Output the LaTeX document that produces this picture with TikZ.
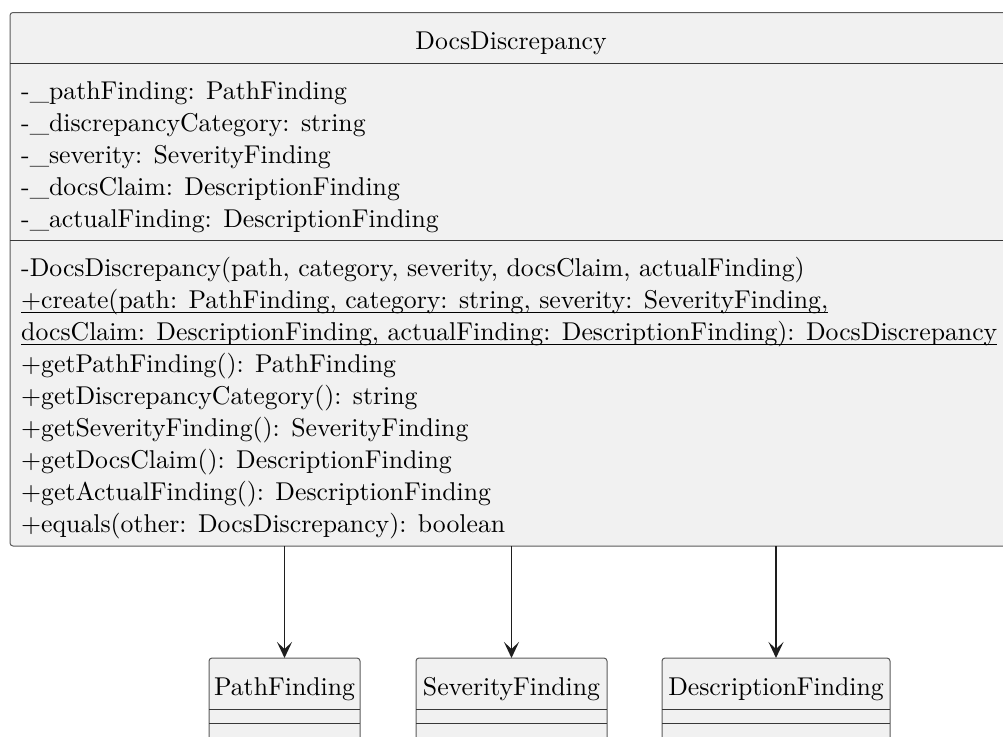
\documentclass[tikz,border=0pt]{standalone}
\usepackage{fontspec}
\setmainfont{lmroman10-regular}[Extension=.otf]
\usetikzlibrary{arrows.meta,calc}

\definecolor{boxfill}{HTML}{F1F1F1}
\definecolor{boxline}{HTML}{5A5A5A}
\definecolor{sepline}{HTML}{383838}
\definecolor{inkline}{HTML}{1E1E1E}

\newlength\refwidth

\begin{document}
% font size chosen so that the first line of create() spans 807pt
\settowidth\refwidth{\normalfont\fontsize{10pt}{12pt}\selectfont +create(path: PathFinding, category: string, severity: SeverityFinding,}%
\pgfmathsetmacro\memfs{10*807/\refwidth}%
\begin{tikzpicture}[x=1pt,y=-1pt,
  umltext/.style={font=\fontsize{\memfs pt}{\memfs pt}\selectfont, inner sep=0pt, text=black},
  member/.style={umltext, anchor=base west},
  classname/.style={umltext, anchor=base},
  classbox/.style={draw=boxline, fill=boxfill, line width=1pt, rounded corners=3pt,
    rectangle, inner sep=0pt, outer sep=0pt},
  compsep/.style={draw=sepline, line width=1.4pt},
  thinsep/.style={draw=sepline, line width=0.9pt},
  underbar/.style={draw=black, line width=1.4pt},
  assoc/.style={draw=inkline, line width=1.7pt,
    -{Stealth[length=16pt, width=15pt, inset=7pt]}}]

\useasboundingbox (0,0) rectangle (1003,736);

% ---- DocsDiscrepancy class ----
\node[classbox, minimum width=1002pt, minimum height=533.5pt] (dd) at (511,279.25) {};
\draw[compsep] (dd.west |- 0,63.3) -- (dd.east |- 0,63.3);
\draw[compsep] (dd.west |- 0,240.5) -- (dd.east |- 0,240.5);

\node[classname] (ddname) at (511,49) {DocsDiscrepancy};

\node[member] (a1) at (21,99.5) {-\_pathFinding: PathFinding};
\node[member] (a2) at (21,131.5) {-\_discrepancyCategory: string};
\node[member] (a3) at (21,163.5) {-\_severity: SeverityFinding};
\node[member] (a4) at (21,195.5) {-\_docsClaim: DescriptionFinding};
\node[member] (a5) at (21,227.5) {-\_actualFinding: DescriptionFinding};

\node[member] (m1) at (21,276) {-DocsDiscrepancy(path, category, severity, docsClaim, actualFinding)};
\node[member] (m2) at (21,308.1) {+create(path: PathFinding, category: string, severity: SeverityFinding,};
\node[member] (m3) at (21,340.2) {docsClaim: DescriptionFinding, actualFinding: DescriptionFinding): DocsDiscrepancy};
\node[member] (m4) at (21,372.3) {+getPathFinding(): PathFinding};
\node[member] (m5) at (21,404.4) {+getDiscrepancyCategory(): string};
\node[member] (m6) at (21,436.5) {+getSeverityFinding(): SeverityFinding};
\node[member] (m7) at (21,468.6) {+getDocsClaim(): DescriptionFinding};
\node[member] (m8) at (21,500.7) {+getActualFinding(): DescriptionFinding};
\node[member] (m9) at (21,532.8) {+equals(other: DocsDiscrepancy): boolean};

% static method is underlined
\draw[underbar] ($(m2.base west)+(0,4.5)$) -- ($(m2.base east)+(0,4.5)$);
\draw[underbar] ($(m3.base west)+(0,4.5)$) -- ($(m3.base east)+(0,4.5)$);

% ---- referenced classes ----
\node[classbox, minimum width=151pt, minimum height=86pt] (pf) at (284.5,701) {};
\node[classbox, minimum width=191pt, minimum height=86pt] (sf) at (511.5,701) {};
\node[classbox, minimum width=228pt, minimum height=86pt] (df) at (776,701) {};

\node[classname] (pfname) at (pf.north |- 0,695.7) {PathFinding};
\node[classname] (sfname) at (sf.north |- 0,695.7) {SeverityFinding};
\node[classname] (dfname) at (df.north |- 0,695.7) {DescriptionFinding};

\foreach \b in {pf,sf,df}{
  \draw[thinsep] (\b.west |- 0,709) -- (\b.east |- 0,709);
  \draw[thinsep] (\b.west |- 0,723.5) -- (\b.east |- 0,723.5);
}

% ---- associations ----
\draw[assoc] (dd.south -| pf.north) -- (pf.north);
\draw[assoc] (dd.south -| sf.north) -- (sf.north);
\draw[assoc] (dd.south -| df.north) -- (df.north);
\end{tikzpicture}
\end{document}
